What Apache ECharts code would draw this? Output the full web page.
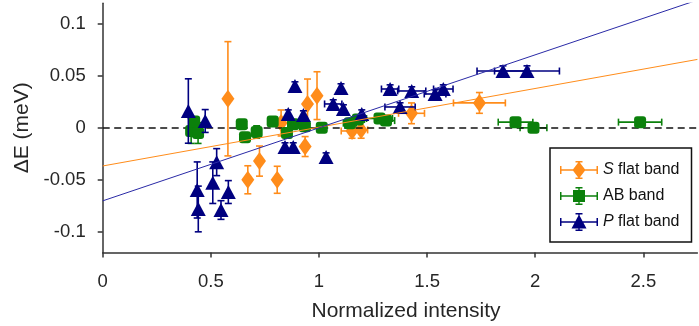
<!DOCTYPE html>
<html>
<head>
<meta charset="utf-8">
<script src="https://cdn.jsdelivr.net/npm/echarts@6/dist/echarts.min.js"></script>
<style>
html,body{margin:0;padding:0;background:#fff;}
#chart{width:699px;height:326px;}
</style>
</head>
<body>
<div id="chart"></div>
<script>
// ---- Data ----
const xTicks = [0, 0.5, 1, 1.5, 2, 2.5];
const yTicks = [-0.1, -0.05, 0, 0.05, 0.1];

// S flat band (orange diamonds)
const sX    = [0.579, 0.671, 0.725, 0.807, 0.825, 0.936, 0.947, 0.991, 1.153, 1.195, 1.428, 1.742];
const sY    = [0.028, -0.050, -0.032, -0.050, 0.0047, -0.018, 0.023, 0.031, -0.003, -0.002, 0.014, 0.024];
const sYErr = [0.055, 0.0135, 0.0145, 0.013, 0.0125, 0.0096, 0.024, 0.023, 0.007, 0.008, 0.010, 0.010];
const sXErr = [0, 0, 0, 0, 0, 0, 0, 0, 0.05, 0.03, 0.06, 0.12];

// AB band (green squares)
const abX    = [0.409, 0.423, 0.441, 0.643, 0.658, 0.712, 0.786, 0.852, 0.880, 0.935, 1.013, 1.143, 1.180, 1.280, 1.310, 1.909, 1.992, 2.485];
const abY    = [-0.003, 0.006, -0.005, 0.0035, -0.009, -0.004, 0.006, -0.005, 0.0035, 0.0015, 0.0, 0.0045, 0.008, 0.009, 0.007, 0.0055, 0.0, 0.0055];
const abYErr = [0.012, 0.004, 0.010, 0.004, 0.004, 0.006, 0.004, 0.004, 0.003, 0.003, 0.003, 0.003, 0.003, 0.004, 0.003, 0.003, 0.003, 0.003];
const abXErr = [0, 0, 0, 0, 0, 0, 0, 0, 0, 0, 0, 0.03, 0.03, 0.06, 0.04, 0.08, 0.062, 0.10];

// P flat band (navy triangles)
const pX    = [0.396, 0.474, 0.437, 0.442, 0.509, 0.527, 0.547, 0.581, 0.843, 0.858, 0.881, 0.889, 0.928, 1.033, 1.066, 1.102, 1.113, 1.198, 1.329, 1.375, 1.429, 1.537, 1.575, 1.851, 1.962];
const pY    = [0.0162, 0.0066, -0.0598, -0.0781, -0.0528, -0.033, -0.0791, -0.0618, -0.0184, 0.0133, -0.0184, 0.0403, 0.0124, -0.0281, 0.023, 0.0384, 0.0182, 0.0133, 0.0374, 0.0201, 0.0355, 0.0326, 0.0374, 0.0547, 0.0547];
const pYErr = [0.031, 0.011, 0.027, 0.022, 0.020, 0.013, 0.009, 0.011, 0.004, 0.004, 0.004, 0.004, 0.004, 0.004, 0.004, 0.004, 0.004, 0.004, 0.004, 0.004, 0.004, 0.004, 0.004, 0.005, 0.005];
const pXErr = [0, 0, 0, 0, 0, 0, 0, 0, 0, 0, 0, 0, 0, 0, 0.04, 0, 0, 0, 0.04, 0.07, 0.065, 0.05, 0.045, 0.12, 0.15];

// Linear fits
const fitS = { intercept: -0.0367, slope: 0.0373 };
const fitP = { intercept: -0.0703, slope: 0.0703 };

const xRange = [0, 2.75];
const yRange = [-0.12, 0.12];

const COL_S = '#ff8c1a', COL_AB = '#0b800b', COL_P = '#000080';

function zip(xs, ys, ye, xe) { return xs.map((x, i) => [x, ys[i], ye[i], xe[i]]); }
function fitLine(f) { return xRange.map(x => [x, f.intercept + f.slope * x]); }

function errRender(color) {
  return function (params, api) {
    const x = api.value(0), y = api.value(1), ye = api.value(2), xe = api.value(3);
    const c = api.coord([x, y]);
    const style = { stroke: color, lineWidth: 1.6 };
    const cap = 3.5;
    const ch = [];
    if (ye > 0) {
      const t = api.coord([x, y + ye]), b = api.coord([x, y - ye]);
      ch.push({ type: 'line', shape: { x1: c[0], y1: t[1], x2: c[0], y2: b[1] }, style });
      ch.push({ type: 'line', shape: { x1: c[0] - cap, y1: t[1], x2: c[0] + cap, y2: t[1] }, style });
      ch.push({ type: 'line', shape: { x1: c[0] - cap, y1: b[1], x2: c[0] + cap, y2: b[1] }, style });
    }
    if (xe > 0) {
      const l = api.coord([x - xe, y]), r = api.coord([x + xe, y]);
      ch.push({ type: 'line', shape: { x1: l[0], y1: c[1], x2: r[0], y2: c[1] }, style });
      ch.push({ type: 'line', shape: { x1: l[0], y1: c[1] - cap, x2: l[0], y2: c[1] + cap }, style });
      ch.push({ type: 'line', shape: { x1: r[0], y1: c[1] - cap, x2: r[0], y2: c[1] + cap }, style });
    }
    return { type: 'group', children: ch };
  };
}

const barsPath = 'M0,8.3L38,8.3L38,9.7L0,9.7Z M0,5L1.5,5L1.5,13L0,13Z M36.5,5L38,5L38,13L36.5,13Z ' +
  'M18.3,0L19.7,0L19.7,18L18.3,18Z M15.5,0L22.5,0L22.5,1.5L15.5,1.5Z M15.5,16.5L22.5,16.5L22.5,18L15.5,18Z ';
const iconS = 'path://' + barsPath + 'M19,0.5L25.5,9L19,17.5L12.5,9Z';
const iconAB = 'path://' + barsPath + 'M13,3L25,3L25,15L13,15Z';
const iconP = 'path://' + barsPath + 'M19,1.5L26.5,15.5L11.5,15.5Z';

const FONT = 'Liberation Sans, Arial, sans-serif';
const chart = echarts.init(document.getElementById('chart'), null, { renderer: 'canvas' });

chart.setOption({
  animation: false,
  backgroundColor: '#fff',
  grid: { left: 102.7, top: 3.2, width: 594.7, height: 249.3, containLabel: false, outerBoundsMode: 'none' },
  xAxis: {
    type: 'value', min: xRange[0], max: xRange[1],
    name: 'Normalized intensity', nameLocation: 'middle', nameGap: 48,
    nameTextStyle: { fontSize: 21, color: '#262626', fontFamily: FONT, padding: [0, 0, 0, 12] },
    axisLine: { show: true, onZero: false, lineStyle: { color: '#333', width: 1.5 } },
    axisTick: { show: true, length: 5, lineStyle: { color: '#333', width: 1.5 }, customValues: xTicks },
    axisLabel: { fontSize: 18.5, color: '#262626', fontFamily: FONT, margin: 20, customValues: xTicks,
      formatter: v => String(v) },
    splitLine: { show: false }
  },
  yAxis: {
    type: 'value', min: yRange[0], max: yRange[1],
    name: 'ΔE (meV)', nameLocation: 'middle', nameGap: 65, nameRotate: 90,
    nameTextStyle: { fontSize: 21, color: '#262626', fontFamily: FONT },
    axisLine: { show: true, onZero: false, lineStyle: { color: '#333', width: 1.5 } },
    axisTick: { show: true, length: 5, lineStyle: { color: '#333', width: 1.5 }, customValues: yTicks },
    axisLabel: { fontSize: 18.5, color: '#262626', fontFamily: FONT, margin: 17, customValues: yTicks,
      formatter: v => String(v) },
    splitLine: { show: false }
  },
  legend: {
    orient: 'vertical', left: 550, top: 148,
    padding: [13, 12, 11, 10], itemGap: 8, itemWidth: 38, itemHeight: 18,
    borderColor: '#111', borderWidth: 1.5, backgroundColor: '#fff',
    textStyle: { fontSize: 16, color: '#111', fontFamily: FONT, rich: { i: { fontSize: 16, fontStyle: 'italic', color: '#111', fontFamily: FONT } } },
    formatter: function (name) {
      if (name === 'S flat band') return '{i|S} flat band';
      if (name === 'P flat band') return '{i|P} flat band';
      return name;
    },
    data: [
      { name: 'S flat band', icon: iconS },
      { name: 'AB band', icon: iconAB },
      { name: 'P flat band', icon: iconP }
    ]
  },
  series: [
    { type: 'custom', name: 'S err', renderItem: errRender(COL_S), data: zip(sX, sY, sYErr, sXErr), encode: { x: 0, y: 1 }, z: 2, silent: true },
    { type: 'scatter', name: 'S flat band', data: zip(sX, sY, sYErr, sXErr), symbol: 'diamond', symbolSize: [13, 18],
      itemStyle: { color: COL_S, opacity: 1 }, z: 3 },
    { type: 'custom', name: 'AB err', renderItem: errRender(COL_AB), data: zip(abX, abY, abYErr, abXErr), encode: { x: 0, y: 1 }, z: 4, silent: true },
    { type: 'scatter', name: 'AB band', data: zip(abX, abY, abYErr, abXErr), symbol: 'roundRect', symbolSize: 12,
      itemStyle: { color: COL_AB, opacity: 1 }, z: 5 },
    { type: 'custom', name: 'P err', renderItem: errRender(COL_P), data: zip(pX, pY, pYErr, pXErr), encode: { x: 0, y: 1 }, z: 6, silent: true },
    { type: 'scatter', name: 'P flat band', data: zip(pX, pY, pYErr, pXErr), symbol: 'triangle', symbolSize: [15, 14],
      itemStyle: { color: COL_P, opacity: 1 }, z: 7 },
    { type: 'line', name: 'S fit', data: fitLine(fitS), symbol: 'none', lineStyle: { color: COL_S, width: 1 }, z: 8, clip: true },
    { type: 'line', name: 'P fit', data: fitLine(fitP), symbol: 'none', lineStyle: { color: '#2a2aa6', width: 1 }, z: 8, clip: true,
      markLine: { silent: true, symbol: 'none', label: { show: false },
        lineStyle: { color: '#111', width: 1.7, type: [7, 4.5] },
        data: [{ yAxis: 0 }] } }
  ]
});
</script>
</body>
</html>
